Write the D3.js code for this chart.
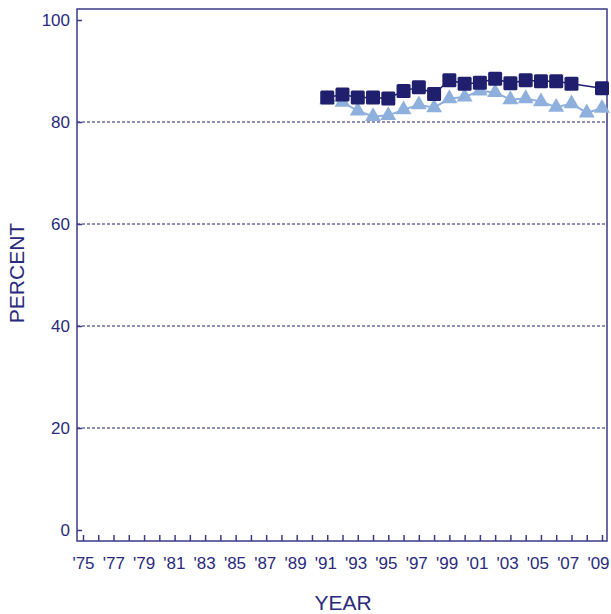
<!DOCTYPE html>
<html>
<head>
<meta charset="utf-8">
<script src="https://cdn.jsdelivr.net/npm/d3@7"></script>
<style>
  body { margin: 0; background: #fff; }
  svg { display: block; font-family: "Liberation Sans", Arial, sans-serif; }
</style>
</head>
<body>
<svg id="chart" width="611" height="614"></svg>
<script>
const years = d3.range(1975, 2010);
const yTicks = [0, 20, 40, 60, 80, 100];
const gridTicks = [20, 40, 60, 80];
const labelYears = d3.range(1975, 2010, 2);

const darkYears = [1991,1992,1993,1994,1995,1996,1997,1998,1999,2000,2001,2002,2003,2004,2005,2006,2007,2009];
const darkValues = [84.8,85.4,84.8,84.8,84.6,86.1,86.8,85.5,88.2,87.5,87.7,88.5,87.6,88.2,88.0,88.0,87.5,86.6];

const lightYears = [1991,1992,1993,1994,1995,1996,1997,1998,1999,2000,2001,2002,2003,2004,2005,2006,2007,2008,2009];
const lightValues = [84.4,83.9,82.2,81.1,81.3,82.4,83.4,82.8,84.6,84.9,86.1,85.8,84.4,84.6,84.0,82.9,83.6,81.8,82.7];

const textColor = "#2a2a7c";
const darkColor = "#1f1f6d";
const lightColor = "#8fb0dc";

const svg = d3.select("#chart");
const frame = {left: 77, top: 9, right: 607, bottom: 541};

const x = d3.scaleLinear().domain([1975, 2009]).range([83, 602]);
const xLabel = d3.scaleLinear().domain([1975, 2009]).range([83.5, 598.5]);
const y = d3.scaleLinear().domain([0, 100]).range([530, 20]);

// gridlines
svg.append("g").selectAll("line").data(gridTicks).join("line")
  .attr("x1", frame.left).attr("x2", frame.right)
  .attr("y1", d => y(d)).attr("y2", d => y(d))
  .attr("stroke", darkColor).attr("stroke-width", 1)
  .attr("stroke-dasharray", "3,2");

// frame
svg.append("rect")
  .attr("x", frame.left).attr("y", frame.top)
  .attr("width", frame.right - frame.left).attr("height", frame.bottom - frame.top)
  .attr("fill", "none").attr("stroke", "#3a3a88").attr("stroke-width", 1.5);

// y axis (ticks inside)
const yAxis = d3.axisRight(y).tickValues(yTicks).tickSize(5).tickFormat("");
const yg = svg.append("g").attr("transform", `translate(${frame.left},0)`).call(yAxis);
yg.select(".domain").remove();
yg.selectAll(".tick line").attr("stroke", "#3a3a88").attr("stroke-width", 1.5);
svg.append("g").selectAll("text").data(yTicks).join("text")
  .attr("x", 70).attr("y", d => y(d)).attr("dy", "0.35em")
  .attr("text-anchor", "end").attr("font-size", 17).attr("fill", textColor)
  .text(d => d);

// x axis ticks (pointing up)
const xAxis = d3.axisTop(x).tickValues(years).tickSize(6).tickFormat("");
const xg = svg.append("g").attr("transform", `translate(0,${frame.bottom})`).call(xAxis);
xg.select(".domain").remove();
xg.selectAll(".tick line").attr("stroke", "#3a3a88").attr("stroke-width", 1.5);
svg.append("g").selectAll("text").data(labelYears).join("text")
  .attr("x", d => xLabel(d)).attr("y", 569)
  .attr("text-anchor", "middle").attr("font-size", 17).attr("fill", textColor)
  .text(d => "'" + String(d).slice(2));

// axis titles
svg.append("text").attr("x", 343).attr("y", 610).attr("text-anchor", "middle")
  .attr("font-size", 21).attr("fill", textColor).text("YEAR");
svg.append("text").attr("transform", "translate(24,273) rotate(-90)")
  .attr("text-anchor", "middle").attr("font-size", 21).attr("fill", textColor).text("PERCENT");

// light series
const lightData = lightYears.map((yr, i) => ({yr, v: lightValues[i]}));
const darkData = darkYears.map((yr, i) => ({yr, v: darkValues[i]}));
const line = d3.line().x(d => x(d.yr)).y(d => y(d.v));

svg.append("path").datum(lightData).attr("d", line)
  .attr("fill", "none").attr("stroke", lightColor).attr("stroke-width", 2);
const tri = d3.symbol().type(d3.symbolTriangle).size(110);
svg.append("g").selectAll("path").data(lightData).join("path")
  .attr("d", tri).attr("transform", d => `translate(${x(d.yr)},${y(d.v)})`)
  .attr("fill", lightColor);

// dark series
svg.append("path").datum(darkData).attr("d", line)
  .attr("fill", "none").attr("stroke", darkColor).attr("stroke-width", 1.5);
svg.append("g").selectAll("rect").data(darkData).join("rect")
  .attr("x", d => x(d.yr) - 7).attr("y", d => y(d.v) - 7)
  .attr("width", 14).attr("height", 14).attr("rx", 1.5)
  .attr("fill", darkColor);
</script>
</body>
</html>
